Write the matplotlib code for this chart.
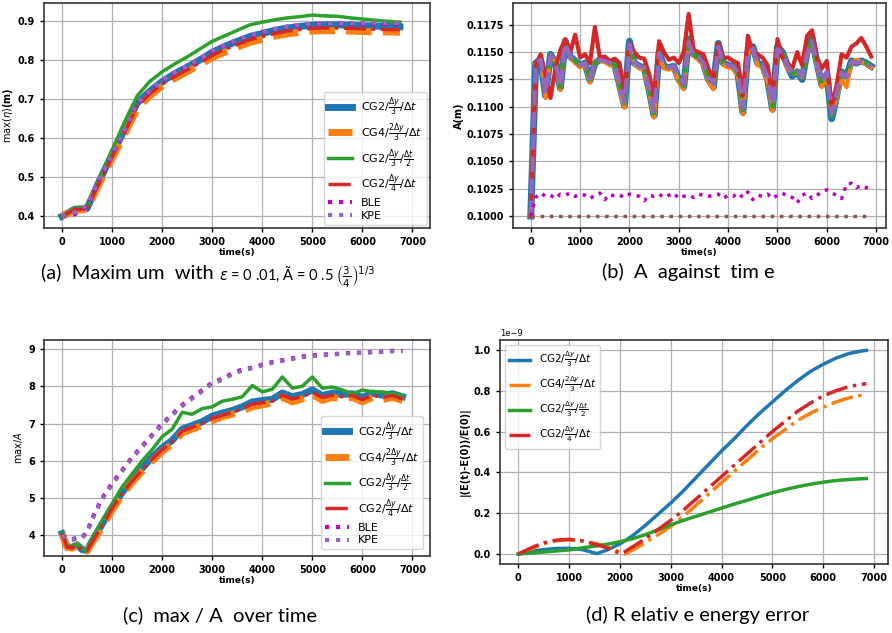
import numpy as np
import matplotlib
matplotlib.use('Agg')
import matplotlib.pyplot as plt
from matplotlib.ticker import FormatStrFormatter

# ---- (a) maximum elevation ----
t_a = np.arange(0, 7000, 250)
a_cg2 = [0.400, 0.418, 0.420, 0.492, 0.558, 0.622, 0.690, 0.720, 0.745, 0.765, 0.782, 0.800, 0.820, 0.835,
         0.848, 0.860, 0.868, 0.876, 0.882, 0.886, 0.889, 0.890, 0.890, 0.889, 0.888, 0.887, 0.886, 0.885]
a_cg4 = [0.400, 0.415, 0.418, 0.485, 0.548, 0.610, 0.675, 0.708, 0.733, 0.753, 0.770, 0.788, 0.806, 0.820,
         0.833, 0.845, 0.853, 0.861, 0.867, 0.871, 0.874, 0.875, 0.875, 0.874, 0.873, 0.872, 0.872, 0.871]
a_cg2_dt = [0.400, 0.420, 0.422, 0.497, 0.570, 0.642, 0.708, 0.745, 0.770, 0.790, 0.808, 0.828, 0.848, 0.862,
            0.876, 0.890, 0.897, 0.903, 0.908, 0.911, 0.915, 0.913, 0.912, 0.908, 0.905, 0.902, 0.899, 0.897]
a_cg2_dy = [0.400, 0.417, 0.419, 0.488, 0.552, 0.615, 0.682, 0.713, 0.738, 0.758, 0.775, 0.793, 0.812, 0.827,
            0.840, 0.852, 0.860, 0.868, 0.874, 0.878, 0.881, 0.882, 0.882, 0.881, 0.880, 0.879, 0.878, 0.878]
a_ble = [0.400, 0.405, 0.425, 0.495, 0.556, 0.620, 0.688, 0.720, 0.746, 0.767, 0.784, 0.802, 0.822, 0.838,
         0.851, 0.863, 0.871, 0.879, 0.885, 0.889, 0.892, 0.893, 0.894, 0.894, 0.893, 0.893, 0.892, 0.892]
a_kpe = [0.400, 0.410, 0.428, 0.497, 0.557, 0.621, 0.689, 0.721, 0.747, 0.768, 0.785, 0.803, 0.823, 0.839,
         0.852, 0.864, 0.872, 0.880, 0.886, 0.890, 0.893, 0.894, 0.895, 0.895, 0.895, 0.895, 0.895, 0.895]

# ---- (b) A against time ----
t_b = np.arange(0, 7000, 100)
b_cg2 = [0.1000, 0.1140, 0.1143, 0.1110, 0.1148, 0.1140, 0.1117, 0.1160, 0.1146, 0.1142,
         0.1138, 0.1140, 0.1124, 0.1140, 0.1143, 0.1143, 0.1140, 0.1139, 0.1120, 0.1101,
         0.1160, 0.1140, 0.1137, 0.1136, 0.1115, 0.1092, 0.1150, 0.1137, 0.1136, 0.1137,
         0.1125, 0.1118, 0.1162, 0.1148, 0.1145, 0.1140, 0.1125, 0.1118, 0.1158, 0.1140,
         0.1138, 0.1137, 0.1130, 0.1095, 0.1150, 0.1155, 0.1140, 0.1138, 0.1125, 0.1098,
         0.1155, 0.1150, 0.1138, 0.1128, 0.1132, 0.1125, 0.1150, 0.1163, 0.1140, 0.1120,
         0.1130, 0.1089, 0.1110, 0.1132, 0.1128, 0.1142, 0.1140, 0.1142, 0.1140, 0.1137]
b_cg4 = [0.1000, 0.1139, 0.1144, 0.1108, 0.1147, 0.1141, 0.1115, 0.1161, 0.1145, 0.1140,
         0.1136, 0.1139, 0.1122, 0.1141, 0.1142, 0.1141, 0.1138, 0.1137, 0.1118, 0.1099,
         0.1158, 0.1139, 0.1135, 0.1134, 0.1113, 0.1090, 0.1149, 0.1135, 0.1134, 0.1135,
         0.1123, 0.1116, 0.1160, 0.1146, 0.1143, 0.1138, 0.1123, 0.1116, 0.1157, 0.1138,
         0.1136, 0.1135, 0.1128, 0.1093, 0.1149, 0.1153, 0.1138, 0.1136, 0.1123, 0.1096,
         0.1153, 0.1148, 0.1136, 0.1130, 0.1131, 0.1127, 0.1148, 0.1160, 0.1138, 0.1118,
         0.1128, 0.1092, 0.1108, 0.1125, 0.1118, 0.1140, 0.1143, 0.1141, 0.1139, 0.1136]
b_cg2_dt = [0.1000, 0.1140, 0.1143, 0.1111, 0.1148, 0.1140, 0.1118, 0.1159, 0.1146, 0.1142,
            0.1138, 0.1140, 0.1125, 0.1140, 0.1143, 0.1142, 0.1140, 0.1139, 0.1121, 0.1103,
            0.1159, 0.1140, 0.1137, 0.1136, 0.1116, 0.1094, 0.1150, 0.1137, 0.1136, 0.1137,
            0.1126, 0.1119, 0.1161, 0.1148, 0.1145, 0.1140, 0.1126, 0.1119, 0.1157, 0.1140,
            0.1138, 0.1137, 0.1131, 0.1097, 0.1150, 0.1154, 0.1140, 0.1138, 0.1126, 0.1100,
            0.1154, 0.1150, 0.1138, 0.1130, 0.1133, 0.1126, 0.1150, 0.1162, 0.1140, 0.1121,
            0.1131, 0.1091, 0.1111, 0.1132, 0.1128, 0.1142, 0.1140, 0.1142, 0.1140, 0.1137]
b_cg2_dy = [0.1000, 0.1138, 0.1148, 0.1128, 0.1108, 0.1135, 0.1152, 0.1162, 0.1150, 0.1166,
            0.1145, 0.1148, 0.1140, 0.1173, 0.1145, 0.1146, 0.1142, 0.1144, 0.1140, 0.1112,
            0.1158, 0.1150, 0.1145, 0.1144, 0.1130, 0.1108, 0.1160, 0.1150, 0.1143, 0.1145,
            0.1140, 0.1150, 0.1185, 0.1152, 0.1150, 0.1148, 0.1135, 0.1125, 0.1158, 0.1145,
            0.1145, 0.1142, 0.1140, 0.1110, 0.1165, 0.1150, 0.1148, 0.1145, 0.1138, 0.1108,
            0.1162, 0.1145, 0.1140, 0.1135, 0.1150, 0.1138, 0.1165, 0.1170, 0.1145, 0.1135,
            0.1142, 0.1100, 0.1120, 0.1148, 0.1145, 0.1155, 0.1158, 0.1163, 0.1155, 0.1146]
b_ref = [0.1000, 0.1139, 0.1143, 0.1112, 0.1147, 0.1140, 0.1119, 0.1158, 0.1146, 0.1141,
         0.1138, 0.1140, 0.1126, 0.1141, 0.1143, 0.1142, 0.1140, 0.1139, 0.1122, 0.1104,
         0.1157, 0.1140, 0.1137, 0.1136, 0.1117, 0.1096, 0.1149, 0.1137, 0.1136, 0.1137,
         0.1127, 0.1121, 0.1159, 0.1147, 0.1145, 0.1140, 0.1127, 0.1121, 0.1155, 0.1140,
         0.1138, 0.1137, 0.1132, 0.1099, 0.1149, 0.1153, 0.1140, 0.1138, 0.1127, 0.1102,
         0.1153, 0.1149, 0.1138, 0.1131, 0.1134, 0.1128, 0.1149, 0.1160, 0.1140, 0.1123,
         0.1132, 0.1094, 0.1113, 0.1131, 0.1127, 0.1141, 0.1140, 0.1141, 0.1140, 0.1137]
b_ble = [0.1000, 0.1017, 0.1021, 0.1018, 0.1019, 0.1016, 0.1020, 0.1019, 0.1021, 0.1018,
         0.1020, 0.1019, 0.1016, 0.1019, 0.1021, 0.1015, 0.1020, 0.1018, 0.1019, 0.1017,
         0.1020, 0.1019, 0.1018, 0.1014, 0.1019, 0.1018, 0.1020, 0.1017, 0.1019, 0.1021,
         0.1016, 0.1018, 0.1019, 0.1017, 0.1020, 0.1019, 0.1018, 0.1019, 0.1020, 0.1016,
         0.1019, 0.1018, 0.1021, 0.1017, 0.1022, 0.1015, 0.1019, 0.1018, 0.1020, 0.1016,
         0.1019, 0.1021, 0.1018, 0.1017, 0.1012, 0.1019, 0.1021, 0.1016, 0.1019, 0.1022,
         0.1024, 0.1021, 0.1019, 0.1016, 0.1029, 0.1030, 0.1026, 0.1028, 0.1026, 0.1025]
b_kpe = [0.1000] * 70

# ---- (c) max/A ----
t_c = [0, 100, 200, 300, 400, 500, 600, 800, 1000, 1200, 1400, 1600, 1800, 2000, 2200, 2400, 2600,
       2800, 3000, 3200, 3400, 3600, 3800, 4000, 4200, 4400, 4600, 4800, 5000, 5200, 5400, 5600,
       5800, 6000, 6200, 6400, 6600, 6800]
c_cg2 = [4.05, 3.70, 3.68, 3.75, 3.62, 3.60, 3.85, 4.30, 4.75, 5.15, 5.50, 5.80, 6.10, 6.35, 6.55,
         6.85, 6.95, 7.05, 7.20, 7.28, 7.35, 7.45, 7.58, 7.62, 7.65, 7.82, 7.72, 7.78, 7.90, 7.75,
         7.82, 7.78, 7.80, 7.70, 7.82, 7.76, 7.80, 7.72]
c_cg4 = [4.05, 3.68, 3.66, 3.73, 3.60, 3.58, 3.80, 4.22, 4.68, 5.08, 5.42, 5.72, 6.00, 6.25, 6.45,
         6.75, 6.85, 6.95, 7.08, 7.18, 7.25, 7.33, 7.45, 7.50, 7.55, 7.70, 7.58, 7.66, 7.78, 7.62,
         7.70, 7.66, 7.70, 7.58, 7.70, 7.64, 7.70, 7.62]
c_cg2_dt = [4.05, 3.72, 3.70, 3.77, 3.64, 3.62, 3.92, 4.40, 4.85, 5.30, 5.65, 6.00, 6.30, 6.65, 6.85,
            7.30, 7.25, 7.40, 7.45, 7.60, 7.65, 7.72, 8.02, 7.85, 7.92, 8.25, 7.95, 8.00, 8.25, 7.95,
            7.98, 7.90, 7.80, 7.90, 7.85, 7.85, 7.80, 7.75]
c_cg2_dy = [4.05, 3.69, 3.67, 3.74, 3.61, 3.59, 3.82, 4.26, 4.72, 5.12, 5.46, 5.76, 6.05, 6.30, 6.50,
            6.80, 6.90, 7.00, 7.14, 7.22, 7.30, 7.40, 7.52, 7.56, 7.60, 7.76, 7.66, 7.72, 7.84, 7.70,
            7.76, 7.72, 7.75, 7.64, 7.76, 7.70, 7.75, 7.66]
c_ble = [4.00, 3.92, 3.90, 3.94, 3.95, 4.10, 4.45, 5.00, 5.40, 5.75, 6.10, 6.40, 6.70, 7.00, 7.25,
         7.50, 7.70, 7.90, 8.10, 8.20, 8.35, 8.45, 8.50, 8.58, 8.65, 8.70, 8.75, 8.80, 8.83, 8.85,
         8.86, 8.88, 8.90, 8.90, 8.92, 8.93, 8.95, 8.95]
c_kpe = [4.00, 3.90, 3.88, 3.92, 3.93, 4.08, 4.42, 4.97, 5.37, 5.72, 6.07, 6.37, 6.67, 6.97, 7.22,
         7.47, 7.67, 7.87, 8.07, 8.17, 8.32, 8.42, 8.48, 8.56, 8.63, 8.68, 8.73, 8.78, 8.81, 8.83,
         8.85, 8.87, 8.89, 8.89, 8.91, 8.92, 8.94, 8.94]

# ---- (d) relative energy error (units of 1e-9) ----
t_d = [0, 250, 500, 750, 1000, 1250, 1550, 1750, 2000, 2100, 2250, 2500, 2750, 3000, 3250, 3500,
       3750, 4000, 4250, 4500, 4750, 5000, 5250, 5500, 5750, 6000, 6250, 6500, 6750, 6850]
d_cg2 = [0.0, 0.012, 0.022, 0.027, 0.028, 0.022, 0.002, 0.020, 0.050, 0.065, 0.090, 0.140, 0.195,
         0.250, 0.310, 0.375, 0.440, 0.505, 0.565, 0.630, 0.690, 0.745, 0.800, 0.850, 0.895, 0.930,
         0.960, 0.982, 0.995, 0.998]
d_cg4 = [0.0, 0.025, 0.050, 0.065, 0.070, 0.065, 0.050, 0.035, 0.010, 0.000, 0.020, 0.055, 0.095,
         0.135, 0.185, 0.240, 0.295, 0.350, 0.405, 0.460, 0.515, 0.565, 0.610, 0.655, 0.690, 0.720,
         0.745, 0.765, 0.778, 0.780]
d_cg2_dt = [0.0, 0.005, 0.010, 0.015, 0.020, 0.030, 0.040, 0.048, 0.060, 0.066, 0.075, 0.095, 0.118,
            0.143, 0.165, 0.185, 0.205, 0.225, 0.245, 0.263, 0.282, 0.300, 0.316, 0.330, 0.342, 0.352,
            0.360, 0.365, 0.369, 0.370]
d_cg2_dy = [0.0, 0.030, 0.055, 0.068, 0.072, 0.065, 0.045, 0.030, 0.003, 0.012, 0.035, 0.075, 0.120,
            0.165, 0.215, 0.270, 0.325, 0.380, 0.435, 0.490, 0.545, 0.600, 0.650, 0.700, 0.740, 0.775,
            0.800, 0.820, 0.832, 0.835]

labels = [r'CG2$/\frac{\Delta y}{3}/\Delta t$',
          r'CG4$/\frac{2\Delta y}{3}/\Delta t$',
          r'CG2$/\frac{\Delta y}{3}/\frac{\Delta t}{2}$',
          r'CG2$/\frac{\Delta y}{4}/\Delta t$',
          'BLE', 'KPE']

W, H = 892, 633
fig = plt.figure(figsize=(W / 100, H / 100), dpi=100)


def ax_at(l, t, r, b):
    return fig.add_axes([l / W, 1 - b / H, (r - l) / W, (b - t) / H])


def style(ax):
    ax.grid(True, color='#b0b0b0', lw=0.9)
    ax.set_axisbelow(True)
    for s in ax.spines.values():
        s.set_linewidth(1.2)
        s.set_color('#333333')
    ax.tick_params(labelsize=7, width=1, length=3)
    for lab in ax.get_xticklabels() + ax.get_yticklabels():
        lab.set_fontweight('bold')
    ax.set_xlabel('time(s)', fontsize=6.5, fontweight='bold', labelpad=1)


leg_kw = dict(fontsize=8, labelspacing=0.25, borderpad=0.35, handlelength=2.2)

# (a)
ax = ax_at(44, 3, 430, 228)
ax.plot(t_a, a_cg2, '-', color='tab:blue', lw=5, label=labels[0])
ax.plot(t_a, a_cg4, '--', color='tab:orange', lw=5, label=labels[1])
ax.plot(t_a, a_cg2_dt, '-', color='tab:green', lw=2.5, label=labels[2])
ax.plot(t_a, a_cg2_dy, '-.', color='tab:red', lw=2.5, label=labels[3])
ax.plot(t_a, a_ble, ':', color='m', lw=3, label=labels[4])
ax.plot(t_a, a_kpe, ':', color='tab:purple', lw=3, label=labels[5])
ax.set_xlim(-360, 7350)
ax.set_ylim(0.37, 0.946)
ax.set_xticks(range(0, 8000, 1000))
ax.set_ylabel(r'$\max(\eta)$(m)', fontsize=7, fontweight='bold', labelpad=2)
style(ax)
ax.legend(loc='lower right', borderaxespad=0.3, **leg_kw)

# (b)
ax = ax_at(513, 3, 886, 228)
ax.plot(t_b, b_cg2, '-', color='tab:blue', lw=5)
ax.plot(t_b, b_cg4, '-', color='tab:orange', lw=3)
ax.plot(t_b, b_cg2_dt, '--', color='tab:green', lw=3)
ax.plot(t_b, b_cg2_dy, '-', color='tab:red', lw=3)
ax.plot(t_b, b_ref, '--', color='tab:purple', lw=3)
ax.plot(t_b, b_ble, ':', color='m', lw=2.5)
ax.plot(t_b, b_kpe, ':', color='tab:brown', lw=2.5)
ax.set_xlim(-360, 7200)
ax.set_ylim(0.0989, 0.1195)
ax.set_xticks(range(0, 8000, 1000))
ax.set_yticks(np.arange(0.1, 0.1176, 0.0025))
ax.yaxis.set_major_formatter(FormatStrFormatter('%.4f'))
ax.set_ylabel('A(m)', fontsize=7, fontweight='bold', labelpad=2)
style(ax)

# (c)
ax = ax_at(44, 340, 430, 556)
ax.plot(t_c, c_cg2, '-', color='tab:blue', lw=5, label=labels[0])
ax.plot(t_c, c_cg4, '--', color='tab:orange', lw=5, label=labels[1])
ax.plot(t_c, c_cg2_dt, '-', color='tab:green', lw=2.5, label=labels[2])
ax.plot(t_c, c_cg2_dy, '-.', color='tab:red', lw=2.5, label=labels[3])
ax.plot(t_c, c_ble, ':', color='m', lw=3, label=labels[4])
ax.plot(t_c, c_kpe, ':', color='tab:purple', lw=3, label=labels[5])
ax.set_xlim(-360, 7350)
ax.set_ylim(3.45, 9.24)
ax.set_xticks(range(0, 8000, 1000))
ax.set_ylabel(r'$\max/A$', fontsize=7, labelpad=2)
style(ax)
ax.legend(loc='lower right', borderaxespad=0.6, **leg_kw)

# (d)
ax = ax_at(500, 340, 888, 564)
ax.plot(t_d, np.array(d_cg2) * 1e-9, '-', color='tab:blue', lw=2.5, label=labels[0])
ax.plot(t_d, np.array(d_cg4) * 1e-9, '-.', color='tab:orange', lw=2.5, label=labels[1])
ax.plot(t_d, np.array(d_cg2_dt) * 1e-9, '-', color='tab:green', lw=2.5, label=labels[2])
ax.plot(t_d, np.array(d_cg2_dy) * 1e-9, '-.', color='tab:red', lw=2.5, label=labels[3])
ax.set_xlim(-360, 7276)
ax.set_ylim(-0.049e-9, 1.049e-9)
ax.set_xticks(range(0, 8000, 1000))
ax.set_ylabel('|(E(t)-E(0))/E(0)|', fontsize=7, fontweight='bold', labelpad=2)
style(ax)
ax.yaxis.get_offset_text().set_fontsize(6)
ax.legend(loc='upper left', fontsize=7.5)

cap = dict(fontsize=14.5, family='Lato', ha='center', va='baseline')
fig.text(214 / W, 1 - 278 / H, '(a)  Maxim um  with', fontsize=14.5, family='Lato',
         ha='right', va='baseline')
fig.text(219 / W, 1 - 282 / H,
         r'$\epsilon$ = 0 .01, Ã = 0 .5 $\left(\frac{3}{4}\right)^{1/3}$',
         fontsize=10.5, family='Lato', ha='left', va='baseline')
fig.text(688 / W, 1 - 278 / H, '(b)  A  against  tim e', **cap)
fig.text(220 / W, 1 - 621 / H, '(c)  max / A  over time', **cap)
fig.text(698 / W, 1 - 621 / H, '(d) R elativ e energy error', **cap)

fig.savefig('out.png', dpi=100)
